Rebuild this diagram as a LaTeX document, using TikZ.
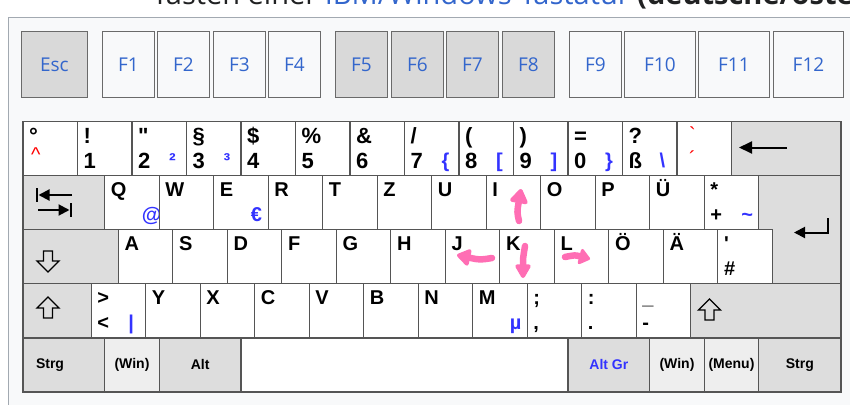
\documentclass[tikz,border=0pt]{standalone}
\usepackage{fontspec}
\usepackage{tikz}
\usetikzlibrary{arrows.meta}

\newfontfamily\keyfont{Liberation Sans}
\newfontfamily\fnfont{Open Sans}

\definecolor{panelbg}{HTML}{F8F9FA}
\definecolor{panelline}{HTML}{A2A9B1}
\definecolor{fkeyline}{HTML}{6A6A6A}
\definecolor{fkeygray}{HTML}{D9D9D9}
\definecolor{keyline}{HTML}{555555}
\definecolor{modgray}{HTML}{DDDDDD}
\definecolor{wingray}{HTML}{EEEEEE}
\definecolor{linkblue}{HTML}{3366CC}
\definecolor{agblue}{HTML}{3333FF}
\definecolor{deadred}{HTML}{FF0000}
\definecolor{markpink}{HTML}{FF6EB4}
\definecolor{titletext}{HTML}{202122}

\tikzset{hollow up/.pic={
  \draw[line width=1.3pt] (0,0) -- (11,11) -- (4.5,11) -- (4.5,21) -- (-4.5,21) -- (-4.5,11) -- (-11,11) -- cycle;}}

\begin{document}
\begin{tikzpicture}[x=1pt,y=-1pt,
   key box/.style={draw=keyline,line width=1.2pt,fill=white,anchor=north west,inner sep=0pt,outer sep=0pt}]

\tikzstyle{mod key} = [key box, fill=modgray];
\tikzstyle{win key} = [key box, fill=wingray];
\tikzstyle{fn key} = [draw=fkeyline, line width=0.9pt, fill=panelbg, anchor=north west, inner sep=0pt, minimum height=66, text=linkblue, font=\fnfont\fontsize{19}{22}\selectfont];
\tikzstyle{up label} = [anchor=base west, inner sep=0pt, font=\keyfont\bfseries\fontsize{20}{24}\selectfont];
\tikzstyle{num label} = [up label, font=\keyfont\bfseries\fontsize{22}{26}\selectfont];
\tikzstyle{ag label} = [up label, text=agblue];
\tikzstyle{dead label} = [anchor=base west, inner sep=0pt, text=deadred, font=\keyfont\fontsize{20}{24}\selectfont];
\tikzstyle{mod label} = [inner sep=0pt, font=\keyfont\bfseries\fontsize{14}{16}\selectfont];
\tikzstyle{pink arrow} = [markpink, line width=6.5pt, line cap=round, line join=round];
\tikzstyle{sym arrow} = [line width=2pt];

\useasboundingbox (0,0) rectangle (850,404);
\clip (0,0) rectangle (850,404);

% heading above the panel, cut off at the top
\node[anchor=base west, inner sep=0pt, text=titletext, font=\fnfont\fontsize{29}{32}\selectfont] (title) at (152,5)
  {Tasten einer \textcolor{linkblue}{IBM/Windows-Tastatur} \textbf{(deutsche/österreichische}};
\draw[panelline, fill=panelbg] (8.5,17.5) rectangle (870,420);

% function keys
\node[fn key, fill=fkeygray, minimum width=66] (esc) at (21,31) {Esc};
\foreach \n/\x/\t in {f1/102/F1, f2/157/F2, f3/213/F3, f4/268/F4, f9/569/F9}
  \node[fn key, minimum width=52] (\n) at (\x,31) {\t};
\foreach \n/\x/\t in {f5/335/F5, f6/391/F6, f7/446/F7, f8/502/F8}
  \node[fn key, fill=fkeygray, minimum width=52] (\n) at (\x,31) {\t};
\node[fn key, minimum width=71] (f10) at (624,31) {F10};
\node[fn key, minimum width=71] (f11) at (698,31) {F11};
\node[fn key, minimum width=70] (f12) at (773,31) {F12};

% number row
\foreach \n/\up/\lo/\ag [count=\i from 0] in {
  circ/{°}/{}/{}, one/{!}/1/{}, two/{"}/2/{²}, three/{§}/3/{³}, four/{\$}/4/{},
  five/{\%}/5/{}, six/{\&}/6/{}, seven/{/}/7/{\{}, eight/{(}/8/{[}, nine/{)}/9/{]},
  zero/{=}/0/{\}}, sz/{?}/{ß}/{\textbackslash}, acute/{}/{}/{}}
{
  \node[key box, minimum width=54.5, minimum height=54.1] (\n) at (23+\i*54.5,121.5) {};
  \node[num label] (\n-up) at ([shift={(6,21.5)}]\n.north west) {\up};
  \node[num label] (\n-lo) at ([shift={(6,46.5)}]\n.north west) {\lo};
  \node[ag label] (\n-ag) at ([shift={(37,46)}]\n.north west) {\ag};
}
\node[dead label] (circ-dead) at ([shift={(8,40)}]circ.north west) {\textasciicircum};
\node[dead label] (acute-up) at ([shift={(12,20)}]acute.north west) {\textasciigrave};
\node[dead label] (acute-lo) at ([shift={(12,44)}]acute.north west) {\textasciiacute};
\node[mod key, minimum width=109.5, minimum height=54.1] (bksp) at (731.5,121.5) {};
\draw[sym arrow, -{Triangle[length=13pt,width=12pt]}] (787,147.5) -- (739,147.5);

% qwertz row
\node[mod key, minimum width=81.75, minimum height=54.1] (tab) at (23,175.6) {};
\draw[line width=2.5pt] (37,188) -- (37,202);
\draw[sym arrow, -{Triangle[length=11pt,width=11pt]}] (72,195) -- (38.5,195);
\draw[line width=2.5pt] (71,203) -- (71,217);
\draw[sym arrow, -{Triangle[length=11pt,width=11pt]}] (38,210) -- (69.5,210);
\foreach \n/\up/\lo/\ag [count=\i from 0] in {
  q/Q/{}/{@}, w/W/{}/{}, e/E/{}/{€}, r/R/{}/{}, t/T/{}/{}, z/Z/{}/{},
  u/U/{}/{}, i/I/{}/{}, o/O/{}/{}, p/P/{}/{}, ue/Ü/{}/{}, plus/{*}/{+}/{\textasciitilde}}
{
  \node[key box, minimum width=54.5, minimum height=54.1] (\n) at (104.75+\i*54.5,175.6) {};
  \node[up label] (\n-up) at ([shift={(6,21)}]\n.north west) {\up};
  \node[up label] (\n-lo) at ([shift={(6,46)}]\n.north west) {\lo};
  \node[ag label] (\n-ag) at ([shift={(37,46)}]\n.north west) {\ag};
}
\filldraw[keyline, fill=modgray, line width=1.2pt] (758.75,175.6) -- (841,175.6) -- (841,283.8)
  -- (772.375,283.8) -- (772.375,229.7) -- (758.75,229.7) -- cycle;
\draw[sym arrow, -{Triangle[length=11pt,width=11pt]}] (828,218) -- (828,232.5) -- (794,232.5);

% home row
\node[mod key, minimum width=95.375, minimum height=54.1] (caps) at (23,229.7) {};
\pic[rotate=180] at (48,272) {hollow up};
\foreach \n/\up/\lo/\ag [count=\i from 0] in {
  a/A/{}/{}, s/S/{}/{}, d/D/{}/{}, f/F/{}/{}, g/G/{}/{}, h/H/{}/{},
  j/J/{}/{}, k/K/{}/{}, l/L/{}/{}, oe/Ö/{}/{}, ae/Ä/{}/{}, hash/{'}/{\#}/{}}
{
  \node[key box, minimum width=54.5, minimum height=54.1] (\n) at (118.375+\i*54.5,229.7) {};
  \node[up label] (\n-up) at ([shift={(6,21)}]\n.north west) {\up};
  \node[up label] (\n-lo) at ([shift={(6,46)}]\n.north west) {\lo};
  \node[ag label] (\n-ag) at ([shift={(37,46)}]\n.north west) {\ag};
}

% shift row
\node[mod key, minimum width=68.125, minimum height=54.1] (lshift) at (23,283.8) {};
\pic at (48,297) {hollow up};
\foreach \n/\up/\lo/\ag [count=\i from 0] in {
  less/{>}/{<}/{|}, y/Y/{}/{}, x/X/{}/{}, c/C/{}/{}, v/V/{}/{}, b/B/{}/{},
  n/N/{}/{}, m/M/{}/{µ}, semi/{;}/{,}/{}, colon/{:}/{.}/{}, minus/{\_}/{-}/{}}
{
  \node[key box, minimum width=54.5, minimum height=54.1] (\n) at (91.125+\i*54.5,283.8) {};
  \node[up label] (\n-up) at ([shift={(6,21)}]\n.north west) {\up};
  \node[up label] (\n-lo) at ([shift={(6,46)}]\n.north west) {\lo};
  \node[ag label] (\n-ag) at ([shift={(37,46)}]\n.north west) {\ag};
}
\node[mod key, minimum width=150.375, minimum height=54.1] (rshift) at (690.625,283.8) {};
\pic at (709.5,299) {hollow up};

% bottom row
\node[mod key, minimum width=81.75, minimum height=54.1] (lctrl) at (23,337.9) {};
\node[mod label] (lctrl-t) at (50,365) {Strg};
\node[win key, minimum width=54.5, minimum height=54.1] (lwin) at (104.75,337.9) {};
\node[mod label] at (lwin.center) (lwin-t) {(Win)};
\node[mod key, minimum width=81.75, minimum height=54.1] (alt) at (159.25,337.9) {};
\node[mod label] at (alt.center) (alt-t) {Alt};
\node[key box, minimum width=327, minimum height=54.1] (space) at (241,337.9) {};
\node[mod key, minimum width=81.75, minimum height=54.1] (altgr) at (568,337.9) {};
\node[mod label, text=agblue] at (altgr.center) (altgr-t) {Alt Gr};
\node[win key, minimum width=54.5, minimum height=54.1] (rwin) at (649.75,337.9) {};
\node[mod label] at (rwin.center) (rwin-t) {(Win)};
\node[win key, minimum width=54.5, minimum height=54.1] (menu) at (704.25,337.9) {};
\node[mod label] at (menu.center) (menu-t) {(Menu)};
\node[mod key, minimum width=82.25, minimum height=54.1] (rctrl) at (758.75,337.9) {};
\node[mod label] at (rctrl.center) (rctrl-t) {Strg};

% cursor marks on I J K L
\draw[pink arrow, -{Triangle[length=16pt,width=20pt,round]}] (519,221) .. controls (517,212) .. (521,189);
\draw[pink arrow, -{Triangle[length=15pt,width=19pt,round]}] (492,258) .. controls (480,260) .. (457,255);
\draw[pink arrow, -{Triangle[length=16pt,width=17pt,round]}] (525,246) .. controls (523,258) .. (523,278);
\draw[pink arrow, -{Triangle[length=12pt,width=18pt,round]}] (565,257) .. controls (575,255) .. (590,259);

\end{tikzpicture}
\end{document}
